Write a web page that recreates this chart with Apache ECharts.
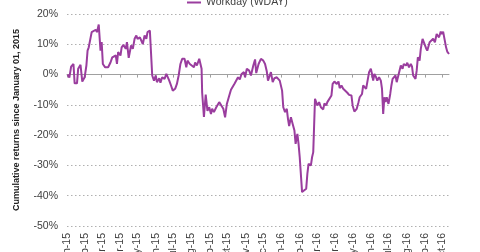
<!DOCTYPE html>
<html>
<head>
<meta charset="utf-8">
<script src="https://cdn.jsdelivr.net/npm/echarts@6/dist/echarts.min.js"></script>
<style>
html,body{margin:0;padding:0;background:#fff;}
#chart{width:480px;height:252px;}
</style>
</head>
<body>
<div id="chart"></div>
<script>
// Series name
const seriesName = 'Workday (WDAY)';
// Start date of the daily category axis and number of days shown
const startDate = '2015-01-01';
const dayCount = 651;
// Observation days (days since 2015-01-01)
const dayOffsets = [1,4,7,11,13,17,19,23,26,30,33,35,37,40,42,45,49,51,54,57,59,61,65,68,70,74,77,79,83,85,87,91,93,96,100,102,105,109,112,115,118,120,124,126,129,132,135,137,141,143,145,148,151,153,157,159,162,166,169,171,174,177,180,184,187,190,193,196,200,203,205,209,212,216,218,221,225,227,229,230,233,236,239,242,245,247,250,254,259,262,266,269,272,276,279,282,285,287,291,294,297,301,303,306,310,313,317,320,322,326,330,334,337,340,342,345,347,350,353,357,360,362,366,368,371,374,376,378,381,384,387,389,392,394,396,400,403,407,409,411,415,417,419,420,422,426,429,432,436,438,441,443,446,450,452,455,459,462,464,467,470,473,477,480,484,486,489,493,496,498,502,504,506,509,511,514,517,519,521,523,526,528,531,534,536,538,540,542,544,547,550,552,554,556,559,561,564,568,571,573,577,579,582,585,587,589,593,595,597,600,602,605,608,611,613,617,620,623,626,629,633,636,638,640,643,645,647,650];
// Cumulative returns (%)
const returnsPct = [0,-1,2.6,3.5,-2.9,-2.9,1.9,3.2,-2.3,-0.9,3,7.9,9,8.5,14,13.4,14.8,14,16.5,7.9,10.7,3.5,2.4,3,2.4,4,5.7,5.2,6.3,3.5,7.4,6.3,9,9.8,8.5,10.7,5.5,9.6,8.5,11.8,12.9,11.8,12.3,11.8,10.1,12.9,11.8,14,14.5,14.9,-0.3,-2,-0.3,-2.5,-1.2,-2.7,-0.9,-1.4,0.2,0.8,-2,-3.6,-5.3,-4.7,-3.1,-0.3,3.5,5.2,5.2,2.4,4.6,3.5,3,2.4,4,3,5.2,5.7,1.9,-6,-14,-6.6,-12,-10.8,-13,-11.3,-12.4,-10.8,-9.1,-9.7,-11.3,-14.1,-9.7,-7,-5,-4,-3,-3.1,-0.9,-1.6,0.2,0.8,-0.9,1.9,1.3,-0.3,3,5,0.5,3.5,5.2,4.6,3.5,1,-2,-2,0.8,-2.5,-1.2,-0.9,-0.3,-2,-5.3,-10.8,-12.4,-11.3,-14.6,-17,-14.1,-16.3,-18.5,-22.9,-19.6,-22.9,-27.3,-38.8,-39.4,-37.7,-32.8,-29.5,-30,-27.3,-25.6,-25,-8,-10.2,-9.1,-10.8,-11.5,-9.5,-10.2,-9.1,-9.7,-6.9,-3.1,-2.3,-3.1,-2.3,-4.5,-3.6,-4.7,-4.2,-6,-6.7,-6.9,-10.2,-12.2,-11.3,-9.1,-7.5,-6.4,-3.6,-3.4,-4.7,-2.5,0.8,1.9,0.2,-2,0.2,-0.9,-2,-0.9,-2,-4.7,-13,-7.5,-9.1,-7.5,-9.7,-6.4,-3.6,-1.4,-2,-0.3,-2.5,-2,3,1.9,3.5,3,3.9,2.4,3.5,2.7,-0.3,-1.4,1.3,5.7,4.6,8.5,11.8,12.3,8.7,7.9,10.7,10.1,11.8,10.7,13.4,12.3,14.2,13.4,14.2,14,9,7.6,6.8];
// Y axis
const yMin = -50, yMax = 20, yStep = 10;
const monthNames = ['Jan','Feb','Mar','Apr','May','Jun','Jul','Aug','Sep','Oct','Nov','Dec'];
const yTitle = 'Cumulative returns since January 01, 2015';

// Build daily categories
const t0 = Date.parse(startDate + 'T00:00:00Z');
const categories = [];
for (let i = 0; i < dayCount; i++) {
  const d = new Date(t0 + i * 86400000);
  categories.push(d.toISOString().slice(0, 10));
}
const values = new Array(dayCount).fill(null);
dayOffsets.forEach((o, i) => { values[o] = returnsPct[i]; });

const isMonthStart = (idx, val) => categories[idx].slice(8) === '01';
const font = 'Arial, "Liberation Sans", sans-serif';
const lineColor = '#9a3d9e';

const chart = echarts.init(document.getElementById('chart'), null, {renderer: 'canvas'});
chart.setOption({
  animation: false,
  grid: {left: 67, right: 31, top: 14, bottom: 26, containLabel: false, outerBoundsMode: 'none'},
  legend: {
    top: -8, left: 182,
    icon: 'rect',
    itemWidth: 14, itemHeight: 2,
    textStyle: {fontFamily: font, fontSize: 10.5, color: '#404040'},
    data: [{name: seriesName, itemStyle: {color: lineColor}}]
  },
  xAxis: [{
    type: 'category',
    position: 'bottom',
    data: categories,
    boundaryGap: false,
    axisLine: {show: false, onZero: false},
    axisTick: {show: false},
    axisLabel: {
      interval: isMonthStart,
      rotate: 90,
      margin: 7,
      fontFamily: font, fontSize: 10.5, color: '#404040',
      formatter: (v) => monthNames[parseInt(v.slice(5, 7), 10) - 1] + '-' + v.slice(2, 4)
    },
    splitLine: {show: false}
  }, {
    type: 'category',
    position: 'top',
    data: categories,
    boundaryGap: false,
    axisLine: {show: true, onZero: true, lineStyle: {color: '#a0a0a0', width: 1}},
    axisTick: {show: true, inside: true, interval: isMonthStart, length: 3, lineStyle: {color: '#a0a0a0'}},
    axisLabel: {show: false},
    splitLine: {show: false}
  }],
  yAxis: {
    type: 'value',
    min: yMin, max: yMax, interval: yStep,
    name: yTitle,
    nameLocation: 'middle',
    nameRotate: 90,
    nameGap: 46,
    nameTextStyle: {fontFamily: font, fontSize: 9, fontWeight: 'bold', color: '#222'},
    axisLine: {show: false},
    axisTick: {show: false},
    axisLabel: {fontFamily: font, fontSize: 10.5, color: '#404040', margin: 9, formatter: (v) => v + '%'},
    splitLine: {show: true, lineStyle: {color: '#b0b0b0', type: [1.5, 2.5], width: 1}}
  },
  series: [{
    name: seriesName,
    type: 'line',
    xAxisIndex: 0,
    data: values,
    connectNulls: true,
    symbol: 'none',
    lineStyle: {color: lineColor, width: 2},
    itemStyle: {color: lineColor}
  }]
});
</script>
</body>
</html>
